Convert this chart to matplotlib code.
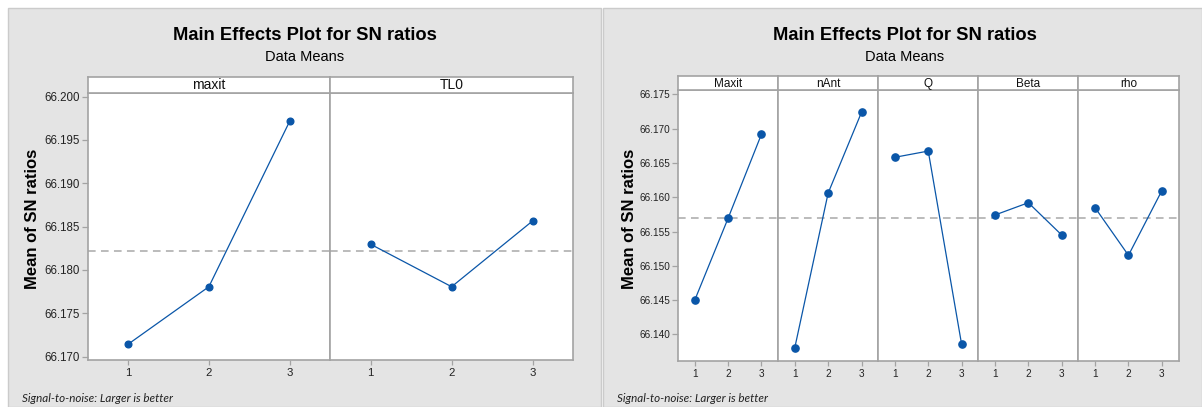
import matplotlib
matplotlib.use("Agg")
import matplotlib.pyplot as plt
from matplotlib.patches import Rectangle
import numpy as np

plt.rcParams['font.family'] = ['Liberation Sans', 'DejaVu Sans']

# factor levels and SN-ratio means
levels = [1, 2, 3]

left_factors = ['maxit', 'TL0']
left_maxit = [66.17141, 66.17806, 66.19719]
left_tl0 = [66.18296, 66.17806, 66.18565]
left_yticks = [66.170, 66.175, 66.180, 66.185, 66.190, 66.195, 66.200]

right_factors = ['Maxit', 'nAnt', 'Q', 'Beta', 'rho']
right_maxit = [66.14497, 66.15692, 66.16917]
right_nant = [66.13806, 66.16061, 66.17238]
right_q = [66.16582, 66.16673, 66.13855]
right_beta = [66.15741, 66.15920, 66.15449]
right_rho = [66.15847, 66.15153, 66.16095]
right_yticks = [66.140, 66.145, 66.150, 66.155, 66.160, 66.165, 66.170, 66.175]

W, H = 1202, 407
BG = '#e4e4e4'
FRAME = '#a3a3a3'
BLUE = '#0a56a8'


def box(x0, y0, x1, y1):
    return [x0 / W, 1 - y1 / H, (x1 - x0) / W, (y1 - y0) / H]


def panel(fig, x0, x1, cx, ylab_x, ax_left, ax_right, strip_top, plot_top,
          plot_bottom, names, series, yticks, ylim, tick_fs, strip_fs,
          xtick_fs, ms, foot_x):
    fig.patches.append(Rectangle((x0 / W, 0), (x1 - x0) / W, 1 - 8 / H,
                                 transform=fig.transFigure, facecolor=BG,
                                 edgecolor='#cbcbcb', lw=1.0, zorder=-5))
    fig.text(cx / W, 1 - 36 / H, 'Main Effects Plot for SN ratios',
             ha='center', va='center', fontsize=13.2, fontweight='bold')
    fig.text(cx / W, 1 - 57 / H, 'Data Means', ha='center', va='center',
             fontsize=10.5)
    fig.text(ylab_x / W, 1 - 219 / H,
             'Mean of SN ratios', rotation=90, ha='center', va='center',
             fontsize=12, fontweight='bold')
    fig.text(foot_x / W, 1 - 398 / H, 'Signal-to-noise: Larger is better',
             ha='left', va='center', fontsize=8.4, style='italic',
             family=['Lato', 'DejaVu Sans'], color='#222222')

    grand = np.mean([np.mean(s) for s in series])
    n = len(names)
    step = (ax_right - ax_left) / n
    for i, (name, vals) in enumerate(zip(names, series)):
        a = ax_left + i * step
        b = a + step
        ax = fig.add_axes(box(a, plot_top, b, plot_bottom))
        ax.set_facecolor('white')
        ax.axhline(grand, color='#a8a8a8', lw=1.1, ls=(0, (5, 3.5)), zorder=1)
        ax.plot(levels, vals, color=BLUE, lw=0.9, marker='o', ms=ms,
                mfc=BLUE, mec=BLUE, zorder=3)
        ax.set_xlim(0.5, 3.5)
        ax.set_ylim(*ylim)
        ax.set_xticks(levels)
        ax.set_xticklabels([str(v) for v in levels], fontsize=xtick_fs,
                           color='#222222')
        ax.tick_params(axis='x', length=3.5, width=0.9, color=FRAME, pad=2.5)
        if i == 0:
            ax.set_yticks(yticks)
            ax.set_yticklabels(['%.3f' % t for t in yticks], fontsize=tick_fs,
                               color='#222222')
            ax.tick_params(axis='y', length=4, width=0.9, color=FRAME, pad=1.5)
        else:
            ax.set_yticks([])
        for sp in ax.spines.values():
            sp.set_color(FRAME)
            sp.set_linewidth(1.2)

        st = fig.add_axes(box(a, strip_top, b, plot_top))
        st.set_facecolor('white')
        st.set_xticks([])
        st.set_yticks([])
        for sp in st.spines.values():
            sp.set_color(FRAME)
            sp.set_linewidth(1.2)
        st.text(0.5, 0.45, name, ha='center', va='center',
                transform=st.transAxes, fontsize=strip_fs, color='#111111')


fig = plt.figure(figsize=(W / 100, H / 100), dpi=100)
fig.patch.set_facecolor('white')

panel(fig, 8, 601, 304.5, 33, 87.5, 573, 76.5, 92.7, 360,
      left_factors, [left_maxit, left_tl0], left_yticks,
      (66.1696, 66.20046), 8.3, 10, 8.2, 4.8, 22)

panel(fig, 603, 1202, 904.5, 629.5, 678, 1178.5, 76.5, 90, 360.7,
      right_factors, [right_maxit, right_nant, right_q, right_beta, right_rho],
      right_yticks, (66.13617, 66.17563), 7.2, 8.5, 7.2, 5.2, 617)

fig.savefig('out.png', dpi=100, facecolor='white')
